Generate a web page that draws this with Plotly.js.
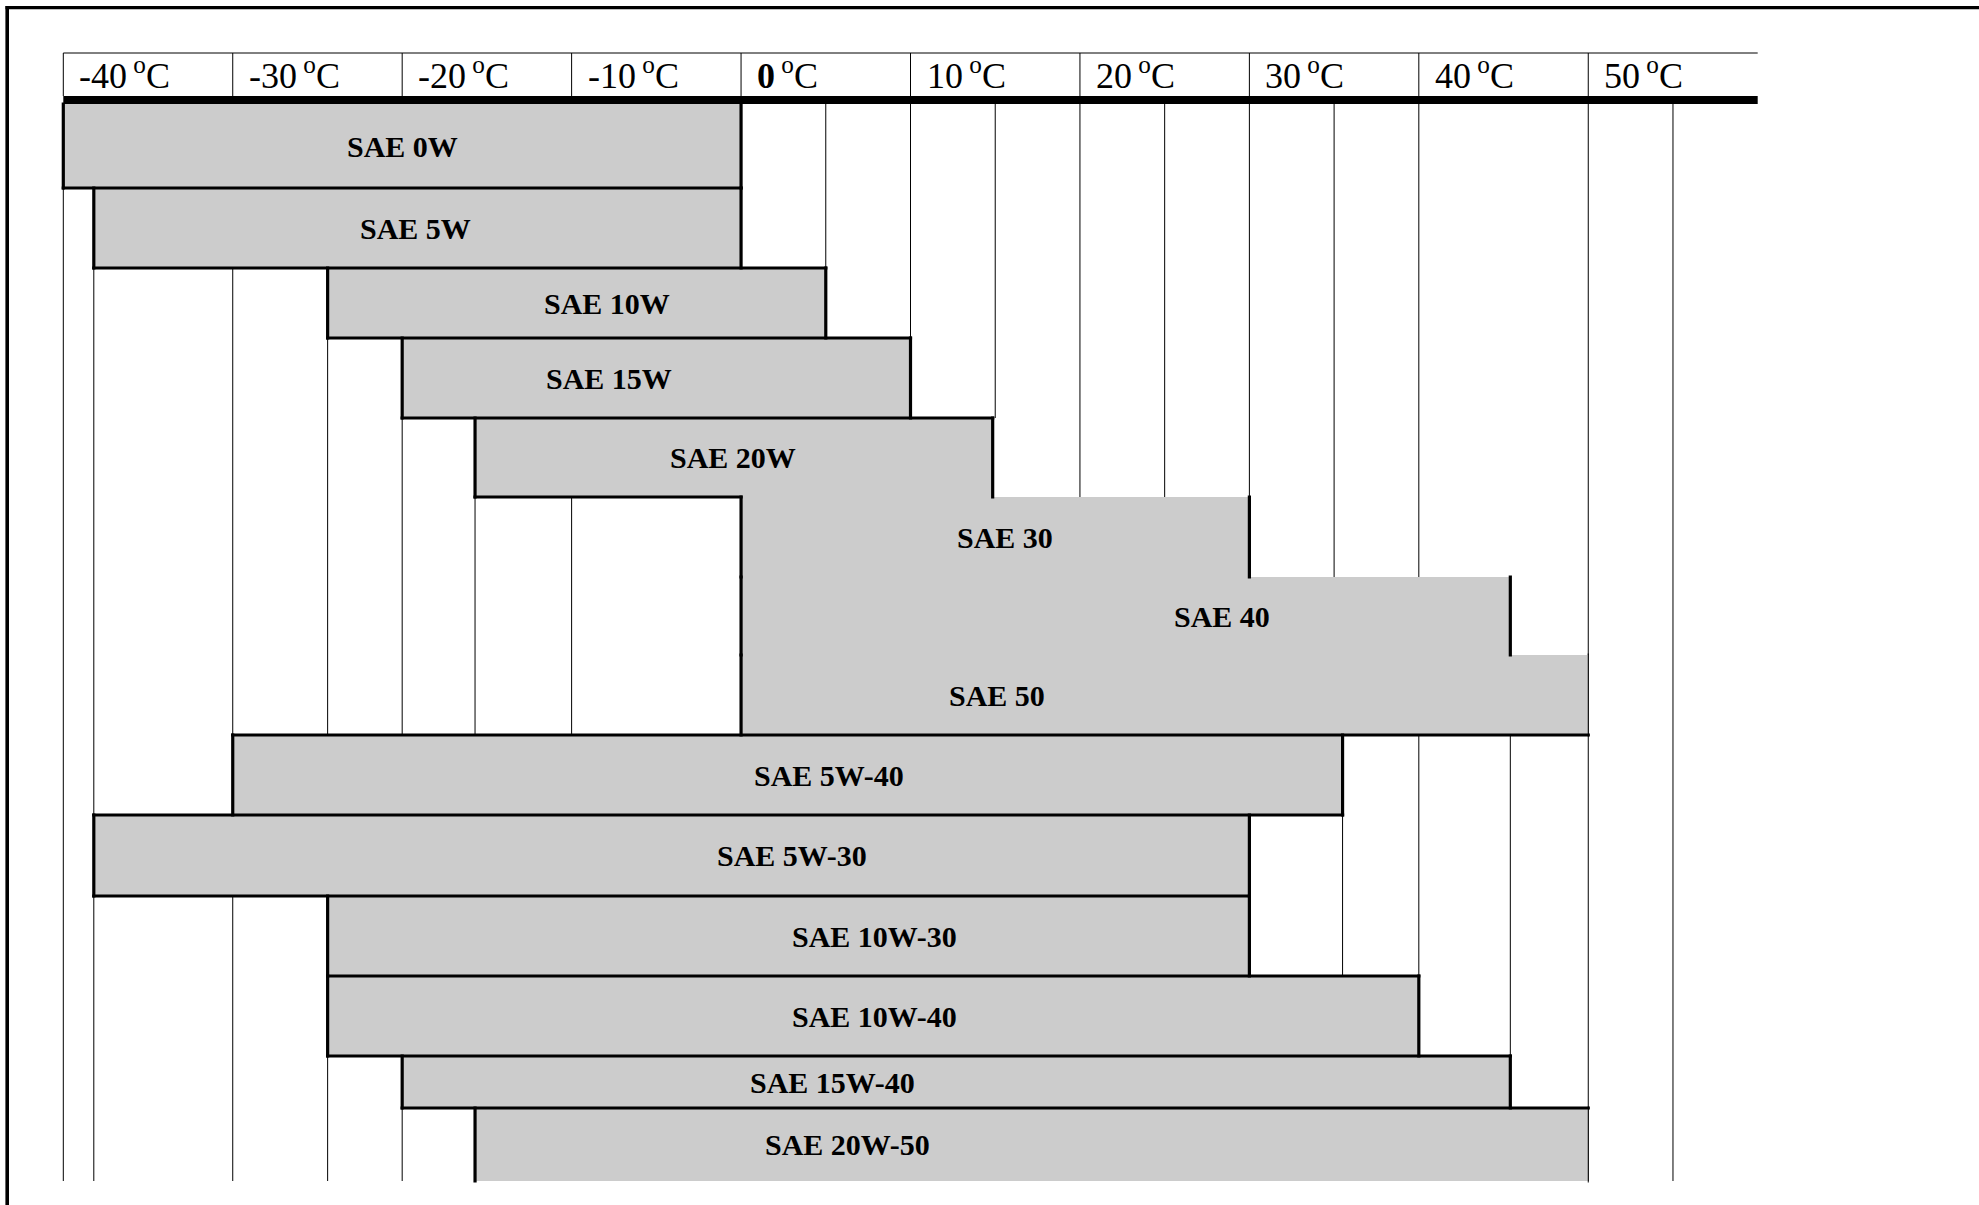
<!DOCTYPE html>
<html>
<head>
<meta charset="utf-8">
<script src="https://cdn.plot.ly/plotly-3.0.1.min.js"></script>
<style>html,body{margin:0;padding:0;background:#fff;overflow:hidden}</style>
</head>
<body>
<div id="chart" style="width:1979px;height:1205px"></div>
<script>
// ---------------- DATA ----------------
const grades = ['SAE 0W','SAE 5W','SAE 10W','SAE 15W','SAE 20W','SAE 30','SAE 40','SAE 50',
                'SAE 5W-40','SAE 5W-30','SAE 10W-30','SAE 10W-40','SAE 15W-40','SAE 20W-50'];
const minTemp = [-40, -38.2, -24.4, -20, -15.7, 0, 0, 0, -30, -38.2, -24.4, -24.4, -20, -15.7];
const maxTemp = [0, 0, 5, 10, 14.85, 30, 45.4, 50, 35.5, 30, 30, 40, 45.4, 50];
const headerTemps = [-40, -30, -20, -10, 0, 10, 20, 30, 40, 50];
const headerLabels = ['-40', '-30', '-20', '-10', '0', '10', '20', '30', '40', '50'];

// ---------------- LAYOUT CONFIG ----------------
const W = 1979, H = 1205;
const tableLeftPx = 63.3, tableRightPx = 1757.7, tMin = -40, tMax = 60;
const pxPerDeg = (tableRightPx - tableLeftPx) / (tMax - tMin);
const xRange = [tMin - tableLeftPx / pxPerDeg, tMin + (W - tableLeftPx) / pxPerDeg];
const headerTop = 53, headerBottom = 96, bodyTop = 104;
const rowHeights = [84, 80, 70, 80, 79, 80, 78, 80, 80, 81, 80, 80, 52, 73];
// temperature at which each grade's label is centred
const labelPos = [-20.0, -19.2, -7.9, -7.8, -0.5, 15.6, 28.4, 15.1, 5.2, 3.0, 7.9, 7.9, 5.4, 6.3];
// rows whose grey area merges with the row above (no dividing border)
const joinAbove = [false,false,false,false,false,true,true,true,false,false,false,false,false,false];
// thin vertical table lines (temperature, optional first / last row)
const gridLines = [
  {t:-40},{t:-38.2},{t:-30},{t:-24.4},{t:-20},{t:-15.7},{t:-10},{t:0},{t:5},{t:10},
  {t:15, last:3},{t:20},{t:25},{t:30},{t:35, last:8},{t:35.5, first:9},{t:40},{t:45.4, first:6},{t:50},{t:55}
];
const GREY = '#cccccc';
const THICK = 3.2;
const FONT = 'Liberation Serif, Times New Roman, serif';

// ---------------- GEOMETRY ----------------
const rowTop = [], rowBot = [];
let acc = bodyTop;
rowHeights.forEach(h => { rowTop.push(acc); acc += h; rowBot.push(acc); });
const rowMid = rowTop.map((t, i) => t + rowHeights[i] / 2);
const dx = (THICK / 2) / pxPerDeg;

const shapes = [];
function line(x0, y0, x1, y1, w, layer) {
  shapes.push({type:'line', xref:'x', yref:'y', x0, y0, x1, y1, layer: layer || 'above',
               line:{color:'#000', width:w}});
}
// outer frame
shapes.push({type:'line', xref:'paper', yref:'paper', x0:5.5/W, x1:1, y0:1-7.6/H, y1:1-7.6/H,
             line:{color:'#000', width:3.4}});
shapes.push({type:'line', xref:'paper', yref:'paper', x0:7.2/W, x1:7.2/W, y0:1-5.9/H, y1:0,
             line:{color:'#000', width:3.6}});
// header
line(tMin, headerTop, tMax, headerTop, 1);
headerTemps.forEach(t => line(t, headerTop, t, headerBottom, 1));
line(tMin, (headerBottom + bodyTop) / 2, tMax, (headerBottom + bodyTop) / 2, bodyTop - headerBottom);
// thin body grid lines (under the bars)
gridLines.forEach(g => {
  const r0 = g.first !== undefined ? g.first : 0;
  const r1 = g.last !== undefined ? g.last : rowHeights.length - 1;
  line(g.t, rowTop[r0], g.t, rowBot[r1], 1, 'below');
});
// thick borders of the grade bars
for (let i = 0; i < grades.length; i++) {
  line(minTemp[i], rowTop[i] - 1.5, minTemp[i], rowBot[i] + 1.5, THICK);
  const rightW = maxTemp[i] >= 50 ? 1 : THICK;
  line(maxTemp[i], rowTop[i] - 1.5, maxTemp[i], rowBot[i] + 1.5, rightW);
  if (i < grades.length - 1) {
    const y = rowBot[i];
    if (joinAbove[i + 1]) {
      if (minTemp[i] < minTemp[i + 1]) line(minTemp[i] - dx, y, minTemp[i + 1] + dx, y, THICK);
    } else {
      line(Math.min(minTemp[i], minTemp[i + 1]) - dx, y, Math.max(maxTemp[i], maxTemp[i + 1]) + dx, y, THICK);
    }
  }
}

// ---------------- ANNOTATIONS ----------------
const annotations = [];
headerTemps.forEach((t, i) => {
  const num = t === 0 ? '<b>' + headerLabels[i] + '</b>' : headerLabels[i];
  annotations.push({x:t, y:(headerTop + headerBottom) / 2, xref:'x', yref:'y', xanchor:'left', yanchor:'middle',
    xshift:14, yshift:1, showarrow:false, text: num + '<sup> o</sup>C',
    font:{family:FONT, size:36, color:'#000'}});
});
grades.forEach((g, i) => {
  annotations.push({x:labelPos[i], y:rowMid[i], xref:'x', yref:'y', xanchor:'center', yanchor:'middle',
    showarrow:false, text:g, font:{family:FONT, size:30, color:'#000', weight:'bold'}});
});

// ---------------- TRACE ----------------
const trace = {
  type:'bar', orientation:'h',
  y: rowMid,
  base: minTemp,
  x: maxTemp.map((e, i) => e - minTemp[i]),
  width: rowHeights,
  marker:{color:GREY, line:{width:0}},
  hoverinfo:'skip', showlegend:false
};

const layout = {
  width:W, height:H,
  margin:{l:0, r:0, t:0, b:0},
  paper_bgcolor:'#fff', plot_bgcolor:'#fff',
  xaxis:{range:xRange, visible:false, fixedrange:true},
  yaxis:{range:[H, 0], visible:false, fixedrange:true},
  shapes, annotations,
  showlegend:false
};
Plotly.newPlot('chart', [trace], layout, {staticPlot:true, displayModeBar:false});
</script>
</body>
</html>
